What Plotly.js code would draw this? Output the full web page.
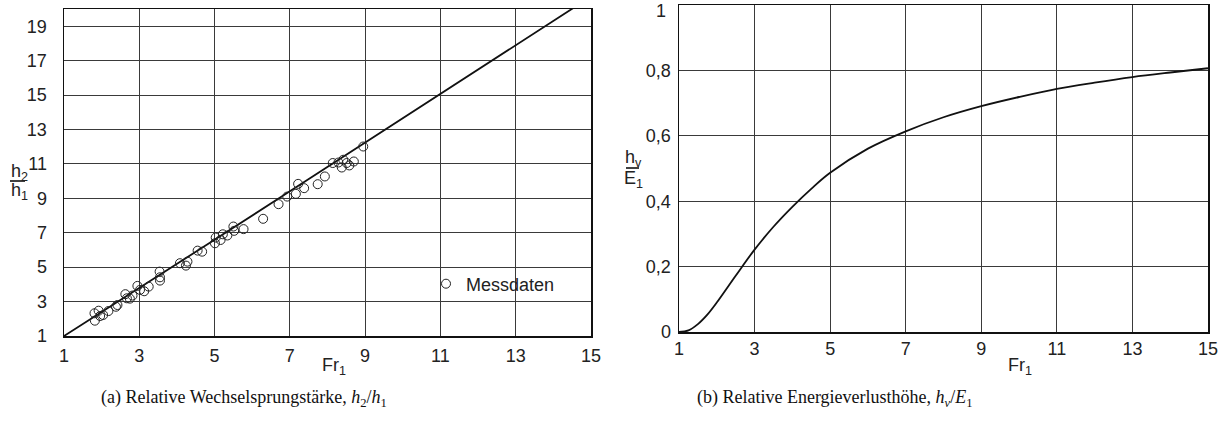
<!DOCTYPE html>
<html>
<head>
<meta charset="utf-8">
<script src="https://cdn.plot.ly/plotly-3.0.1.min.js"></script>
<style>html,body{margin:0;padding:0;background:#fff;}#chart{width:1223px;height:425px;}</style>
</head>
<body>
<div id="chart"></div>
<script>
// (a) Relative jump height h2/h1 vs Fr1
var lineFr = [1, 3, 5, 7, 9, 11, 13, 15];
var lineH = [1.0, 3.77, 6.59, 9.41, 12.24, 15.06, 17.89, 20.72];

var measFr = [1.82, 1.81, 1.92, 1.96, 2.04, 2.18, 2.38, 2.42, 2.63, 2.67, 2.75, 2.82,
  2.95, 3.02, 3.13, 3.25, 3.54, 3.55, 3.55, 4.08, 4.24, 4.28, 4.55, 4.67,
  5.01, 5.03, 5.16, 5.22, 5.34, 5.50, 5.52, 5.77, 6.29, 6.70, 6.93, 7.16,
  7.22, 7.38, 7.74, 7.93, 8.14, 8.29, 8.38, 8.42, 8.51, 8.58, 8.70, 8.95];
var measH = [1.89, 2.32, 2.47, 2.16, 2.22, 2.45, 2.70, 2.80, 3.43, 3.19, 3.17, 3.35,
  3.91, 3.68, 3.60, 3.87, 4.74, 4.41, 4.22, 5.23, 5.09, 5.32, 5.96, 5.90,
  6.39, 6.72, 6.58, 6.91, 6.84, 7.36, 7.11, 7.21, 7.81, 8.66, 9.10, 9.26,
  9.84, 9.59, 9.82, 10.27, 11.05, 11.08, 10.79, 11.24, 11.05, 10.91, 11.14, 12.01];

// (b) Relative energy loss hv/E1 vs Fr1
var lossFr = [1, 1.25, 1.5, 1.75, 2, 2.5, 3, 3.5, 4, 4.5, 5, 6, 7, 8, 9, 10, 11, 12, 13, 14, 15];
var lossE = [0, 0.005, 0.024, 0.053, 0.09, 0.172, 0.252, 0.322, 0.383, 0.438, 0.487,
  0.561, 0.614, 0.657, 0.691, 0.719, 0.744, 0.763, 0.780, 0.794, 0.807];

var xTicksA = [1, 3, 5, 7, 9, 11, 13, 15];
var yTicksA = [1, 3, 5, 7, 9, 11, 13, 15, 17, 19];
var xTicksB = [1, 3, 5, 7, 9, 11, 13, 15];
var yTicksB = [0, 0.2, 0.4, 0.6, 0.8, 1];
var yTicksBTop = [1];

var W = 1223, H = 425;
function px(x) { return x / W; }
function py(y) { return 1 - y / H; }

var tickFont = {family: 'Liberation Sans, Arial, sans-serif', size: 18, color: '#222'};
var gridCol = '#3a3a3a';

var traces = [
  {x: lineFr, y: lineH, mode: 'lines', line: {color: '#111', width: 1.8},
   xaxis: 'x', yaxis: 'y', showlegend: false, hoverinfo: 'skip'},
  {x: measFr, y: measH, mode: 'markers', name: 'Messdaten',
   marker: {symbol: 'circle-open', size: 9, color: '#222', line: {width: 1}},
   xaxis: 'x', yaxis: 'y'},
  {x: lossFr, y: lossE, mode: 'lines', line: {color: '#111', width: 1.8, shape: 'spline'},
   xaxis: 'x2', yaxis: 'y2', showlegend: false},
  // empty helper trace so the label-only overlay axis (top tick "1") is drawn
  {x: [], y: [], mode: 'lines', xaxis: 'x2', yaxis: 'y3', showlegend: false, hoverinfo: 'skip'}
];

function axis(common) {
  return Object.assign({
    showgrid: true, gridcolor: gridCol, gridwidth: 1,
    showline: true, linecolor: '#111', linewidth: 1.5, mirror: true,
    zeroline: false, ticks: '', tickfont: tickFont, automargin: false,
    ticklabeloverflow: 'allow', fixedrange: true
  }, common);
}

var yTicksBMain = yTicksB.filter(function (v) { return yTicksBTop.indexOf(v) < 0; });

var layout = {
  width: W, height: H,
  margin: {l: 0, r: 0, t: 0, b: 0},
  paper_bgcolor: '#fff', plot_bgcolor: '#fff',
  separators: ',.',
  font: tickFont,
  xaxis: axis({domain: [px(64), px(591)], range: [1, 15.001], tickvals: xTicksA,
    ticklabelstandoff: 3, anchor: 'y'}),
  yaxis: axis({domain: [py(336), py(9)], range: [1, 20], tickvals: yTicksA,
    ticklabelstandoff: 12, anchor: 'x'}),
  xaxis2: axis({domain: [px(679), px(1208)], range: [1, 15.001], tickvals: xTicksB,
    ticklabelstandoff: 0, anchor: 'y2'}),
  yaxis2: axis({domain: [py(332), py(5)], range: [0, 1.0005], tickvals: yTicksBMain,
    ticklabelstandoff: 3, anchor: 'x2'}),
  yaxis3: axis({domain: [py(332), py(5)], range: [0, 1.0005], tickvals: yTicksBTop,
    ticklabelstandoff: 12, ticklabelshift: 6, anchor: 'x2', overlaying: 'y2',
    side: 'left', showgrid: false, showline: false}),
  showlegend: true,
  legend: {x: px(426), y: py(284), xanchor: 'left', yanchor: 'middle',
    bgcolor: 'rgba(0,0,0,0)', borderwidth: 0, itemwidth: 30,
    font: tickFont},
  shapes: [
    {type: 'line', xref: 'paper', yref: 'paper', x0: px(10), x1: px(25), y0: py(181), y1: py(181),
     line: {color: '#111', width: 1.6}},
    {type: 'line', xref: 'paper', yref: 'paper', x0: px(626), x1: px(639), y0: py(168), y1: py(168),
     line: {color: '#111', width: 1.6}}
  ],
  annotations: [
    {text: 'h<sub>2</sub>', xref: 'paper', yref: 'paper', x: px(19), y: py(172), showarrow: false,
     font: tickFont, xanchor: 'center', yanchor: 'middle'},
    {text: 'h<sub>1</sub>', xref: 'paper', yref: 'paper', x: px(19), y: py(191), showarrow: false,
     font: tickFont, xanchor: 'center', yanchor: 'middle'},
    {text: 'h<sub>v</sub>', xref: 'paper', yref: 'paper', x: px(633), y: py(158), showarrow: false,
     font: tickFont, xanchor: 'center', yanchor: 'middle'},
    {text: 'E<sub>1</sub>', xref: 'paper', yref: 'paper', x: px(633), y: py(179), showarrow: false,
     font: tickFont, xanchor: 'center', yanchor: 'middle'},
    {text: 'Fr<sub>1</sub>', xref: 'paper', yref: 'paper', x: px(334), y: py(366), showarrow: false,
     font: tickFont, xanchor: 'center', yanchor: 'middle'},
    {text: 'Fr<sub>1</sub>', xref: 'paper', yref: 'paper', x: px(1020), y: py(366), showarrow: false,
     font: tickFont, xanchor: 'center', yanchor: 'middle'},
    {text: '(a) Relative Wechselsprungstärke, <i>h</i><sub>2</sub>/<i>h</i><sub>1</sub>',
     xref: 'paper', yref: 'paper', x: px(244), y: py(398), showarrow: false,
     font: {family: 'Liberation Serif, Times New Roman, serif', size: 18, color: '#111'},
     xanchor: 'center', yanchor: 'middle'},
    {text: '(b) Relative Energieverlusthöhe, <i>h<sub>v</sub></i>/<i>E</i><sub>1</sub>',
     xref: 'paper', yref: 'paper', x: px(835), y: py(398), showarrow: false,
     font: {family: 'Liberation Serif, Times New Roman, serif', size: 18, color: '#111'},
     xanchor: 'center', yanchor: 'middle'}
  ]
};

Plotly.newPlot('chart', traces, layout, {displayModeBar: false, staticPlot: true});
</script>
</body>
</html>
